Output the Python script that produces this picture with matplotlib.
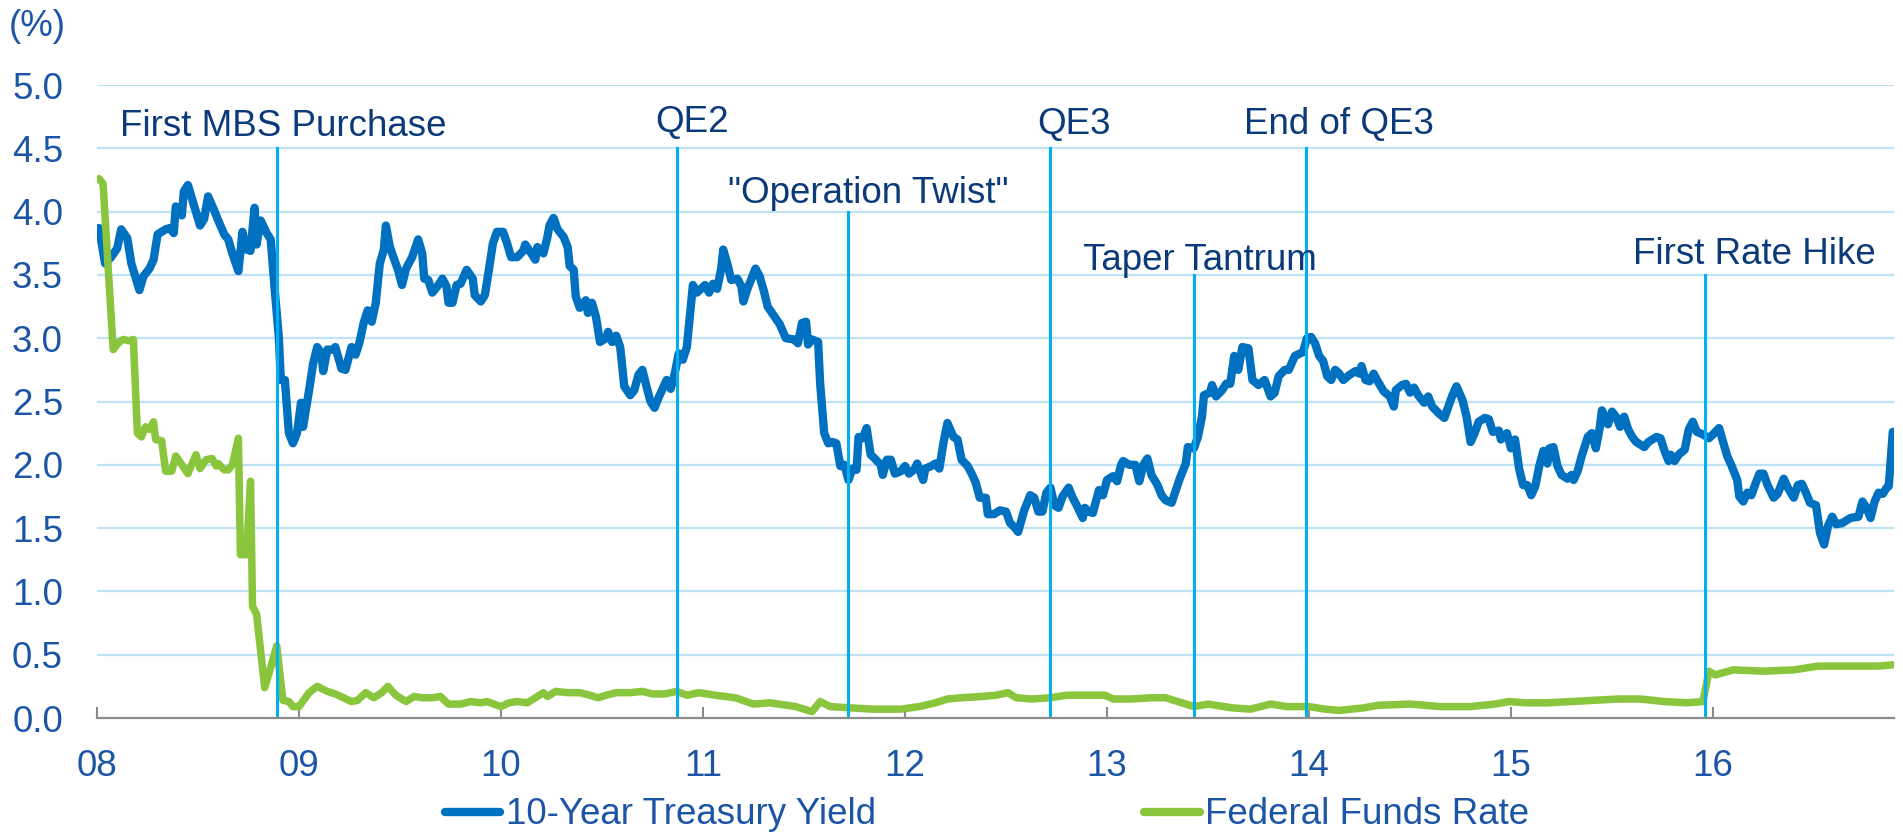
import matplotlib
matplotlib.use("Agg")
import matplotlib.pyplot as plt

plt.rcParams['font.family'] = ['Liberation Sans', 'DejaVu Sans']

# weekly-ish readings, decimal years
ust_dates = [
    2008.01, 2008.04, 2008.07, 2008.10, 2008.12, 2008.15, 2008.17, 2008.21, 2008.23, 2008.26,
    2008.28, 2008.30, 2008.34, 2008.36, 2008.38, 2008.39, 2008.42, 2008.43, 2008.45, 2008.48,
    2008.51, 2008.53, 2008.55, 2008.58, 2008.60, 2008.63, 2008.65, 2008.67, 2008.70, 2008.72,
    2008.74, 2008.76, 2008.78, 2008.79, 2008.81, 2008.84, 2008.86, 2008.88, 2008.90, 2008.91,
    2008.93, 2008.95, 2008.97, 2008.99, 2009.01, 2009.02, 2009.05, 2009.07, 2009.09, 2009.11,
    2009.12, 2009.14, 2009.17, 2009.18, 2009.21, 2009.23, 2009.26, 2009.28, 2009.30, 2009.32,
    2009.34, 2009.36, 2009.38, 2009.40, 2009.42, 2009.43, 2009.45, 2009.49, 2009.51, 2009.53,
    2009.56, 2009.59, 2009.61, 2009.62, 2009.64, 2009.66, 2009.69, 2009.71, 2009.73, 2009.74,
    2009.76, 2009.78, 2009.80, 2009.83, 2009.86, 2009.87, 2009.90, 2009.92, 2009.94, 2009.96,
    2009.98, 2010.01, 2010.03, 2010.05, 2010.08, 2010.11, 2010.12, 2010.15, 2010.17, 2010.18,
    2010.21, 2010.23, 2010.24, 2010.26, 2010.28, 2010.31, 2010.33, 2010.34, 2010.36, 2010.37,
    2010.39, 2010.42, 2010.43, 2010.45, 2010.47, 2010.49, 2010.52, 2010.53, 2010.55, 2010.57,
    2010.59, 2010.60, 2010.61, 2010.64, 2010.66, 2010.68, 2010.70, 2010.72, 2010.74, 2010.76,
    2010.78, 2010.82, 2010.84, 2010.86, 2010.88, 2010.90, 2010.92, 2010.95, 2010.97, 2010.99,
    2011.01, 2011.03, 2011.05, 2011.07, 2011.09, 2011.10, 2011.12, 2011.14, 2011.17, 2011.19,
    2011.20, 2011.22, 2011.26, 2011.28, 2011.30, 2011.32, 2011.35, 2011.38, 2011.41, 2011.45,
    2011.47, 2011.49, 2011.51, 2011.52, 2011.54, 2011.57, 2011.58, 2011.60, 2011.62, 2011.64,
    2011.66, 2011.68, 2011.70, 2011.72, 2011.74, 2011.76, 2011.77, 2011.79, 2011.81, 2011.83,
    2011.85, 2011.88, 2011.89, 2011.91, 2011.93, 2011.95, 2011.98, 2012.00, 2012.02, 2012.05,
    2012.06, 2012.09, 2012.10, 2012.13, 2012.15, 2012.17, 2012.19, 2012.21, 2012.24, 2012.26,
    2012.28, 2012.31, 2012.33, 2012.35, 2012.37, 2012.40, 2012.41, 2012.44, 2012.47, 2012.50,
    2012.52, 2012.54, 2012.56, 2012.59, 2012.62, 2012.64, 2012.66, 2012.68, 2012.70, 2012.72,
    2012.74, 2012.76, 2012.78, 2012.81, 2012.83, 2012.85, 2012.88, 2012.89, 2012.91, 2012.93,
    2012.96, 2012.98, 2013.00, 2013.03, 2013.05, 2013.07, 2013.08, 2013.11, 2013.14, 2013.16,
    2013.18, 2013.20, 2013.22, 2013.25, 2013.27, 2013.29, 2013.32, 2013.36, 2013.39, 2013.40,
    2013.43, 2013.45, 2013.47, 2013.48, 2013.51, 2013.52, 2013.54, 2013.57, 2013.59, 2013.61,
    2013.63, 2013.65, 2013.67, 2013.70, 2013.72, 2013.75, 2013.78, 2013.81, 2013.83, 2013.85,
    2013.88, 2013.90, 2013.93, 2013.97, 2013.99, 2014.01, 2014.03, 2014.05, 2014.07, 2014.09,
    2014.11, 2014.13, 2014.15, 2014.17, 2014.20, 2014.23, 2014.25, 2014.26, 2014.28, 2014.30,
    2014.32, 2014.34, 2014.37, 2014.40, 2014.42, 2014.43, 2014.46, 2014.48, 2014.50, 2014.52,
    2014.54, 2014.57, 2014.59, 2014.61, 2014.64, 2014.67, 2014.69, 2014.71, 2014.73, 2014.76,
    2014.78, 2014.80, 2014.82, 2014.84, 2014.87, 2014.89, 2014.91, 2014.94, 2014.95, 2014.98,
    2015.00, 2015.02, 2015.04, 2015.06, 2015.08, 2015.10, 2015.12, 2015.14, 2015.16, 2015.18,
    2015.19, 2015.21, 2015.23, 2015.25, 2015.28, 2015.30, 2015.31, 2015.33, 2015.35, 2015.38,
    2015.40, 2015.42, 2015.44, 2015.45, 2015.48, 2015.50, 2015.52, 2015.54, 2015.56, 2015.58,
    2015.60, 2015.62, 2015.66, 2015.68, 2015.70, 2015.72, 2015.74, 2015.76, 2015.78, 2015.79,
    2015.81, 2015.83, 2015.86, 2015.88, 2015.90, 2015.92, 2015.95, 2015.98, 2016.00, 2016.03,
    2016.05, 2016.07, 2016.09, 2016.12, 2016.13, 2016.15, 2016.17, 2016.19, 2016.21, 2016.23,
    2016.25, 2016.27, 2016.30, 2016.32, 2016.35, 2016.37, 2016.40, 2016.42, 2016.44, 2016.46,
    2016.48, 2016.51, 2016.53, 2016.55, 2016.57, 2016.59, 2016.61, 2016.64, 2016.68, 2016.72,
    2016.74, 2016.76, 2016.78, 2016.80, 2016.82, 2016.84, 2016.86, 2016.87, 2016.88, 2016.89,
]
ust_yield = [
    3.87, 3.59, 3.64, 3.71, 3.86, 3.79, 3.59, 3.38, 3.49, 3.55,
    3.62, 3.82, 3.86, 3.87, 3.83, 4.04, 3.97, 4.16, 4.21, 4.05,
    3.89, 3.94, 4.12, 4.01, 3.93, 3.82, 3.78, 3.67, 3.53, 3.84,
    3.70, 3.69, 4.03, 3.74, 3.93, 3.83, 3.78, 3.38, 3.01, 2.67,
    2.67, 2.25, 2.17, 2.25, 2.49, 2.30, 2.59, 2.80, 2.93, 2.88,
    2.74, 2.91, 2.91, 2.93, 2.76, 2.75, 2.93, 2.87, 2.97, 3.12,
    3.22, 3.13, 3.28, 3.59, 3.70, 3.89, 3.72, 3.54, 3.42, 3.55,
    3.64, 3.78, 3.67, 3.47, 3.46, 3.36, 3.42, 3.47, 3.41, 3.28,
    3.28, 3.42, 3.43, 3.54, 3.47, 3.34, 3.29, 3.34, 3.54, 3.75,
    3.84, 3.84, 3.75, 3.64, 3.64, 3.69, 3.74, 3.67, 3.62, 3.72,
    3.67, 3.80, 3.89, 3.95, 3.86, 3.80, 3.72, 3.57, 3.54, 3.33,
    3.24, 3.30, 3.20, 3.28, 3.17, 2.97, 3.00, 3.05, 2.97, 3.02,
    2.93, 2.78, 2.62, 2.55, 2.59, 2.71, 2.75, 2.62, 2.50, 2.45,
    2.53, 2.67, 2.60, 2.72, 2.88, 2.83, 2.93, 3.42, 3.36, 3.39,
    3.42, 3.36, 3.43, 3.39, 3.55, 3.70, 3.59, 3.46, 3.47, 3.41,
    3.29, 3.39, 3.55, 3.49, 3.38, 3.25, 3.18, 3.11, 3.00, 2.99,
    2.96, 3.12, 3.13, 2.95, 2.99, 2.97, 2.64, 2.25, 2.17, 2.18,
    2.17, 1.99, 2.00, 1.88, 1.97, 1.96, 2.22, 2.21, 2.29, 2.08,
    2.05, 2.00, 1.92, 2.04, 2.04, 1.93, 1.95, 1.99, 1.93, 1.97,
    2.01, 1.88, 1.97, 1.99, 2.01, 1.97, 2.17, 2.33, 2.22, 2.20,
    2.04, 1.99, 1.93, 1.86, 1.74, 1.74, 1.61, 1.61, 1.64, 1.63,
    1.54, 1.51, 1.47, 1.64, 1.76, 1.74, 1.63, 1.63, 1.78, 1.82,
    1.68, 1.66, 1.75, 1.82, 1.74, 1.68, 1.58, 1.66, 1.63, 1.62,
    1.80, 1.76, 1.88, 1.91, 1.87, 2.00, 2.03, 2.00, 2.00, 1.87,
    2.00, 2.05, 1.92, 1.84, 1.76, 1.72, 1.70, 1.89, 2.01, 2.14,
    2.13, 2.22, 2.38, 2.55, 2.57, 2.63, 2.54, 2.59, 2.64, 2.64,
    2.86, 2.75, 2.93, 2.92, 2.67, 2.63, 2.67, 2.54, 2.57, 2.70,
    2.75, 2.75, 2.86, 2.89, 3.00, 3.01, 2.96, 2.86, 2.82, 2.70,
    2.67, 2.75, 2.72, 2.67, 2.71, 2.74, 2.72, 2.78, 2.67, 2.66,
    2.72, 2.66, 2.58, 2.54, 2.46, 2.59, 2.63, 2.64, 2.57, 2.61,
    2.55, 2.49, 2.54, 2.46, 2.41, 2.37, 2.46, 2.55, 2.62, 2.51,
    2.38, 2.18, 2.25, 2.34, 2.37, 2.36, 2.26, 2.27, 2.20, 2.25,
    2.13, 2.20, 1.97, 1.84, 1.84, 1.76, 1.83, 1.99, 2.11, 2.01,
    2.13, 2.14, 1.99, 1.92, 1.89, 1.92, 1.88, 1.95, 2.07, 2.22,
    2.25, 2.13, 2.30, 2.43, 2.32, 2.42, 2.38, 2.30, 2.38, 2.28,
    2.22, 2.18, 2.14, 2.18, 2.20, 2.22, 2.21, 2.11, 2.03, 2.08,
    2.03, 2.08, 2.12, 2.28, 2.34, 2.26, 2.24, 2.21, 2.24, 2.29,
    2.18, 2.07, 2.00, 1.88, 1.75, 1.71, 1.78, 1.76, 1.85, 1.93,
    1.93, 1.84, 1.74, 1.77, 1.89, 1.82, 1.74, 1.84, 1.85, 1.78,
    1.70, 1.68, 1.46, 1.37, 1.52, 1.59, 1.53, 1.54, 1.58, 1.59,
    1.71, 1.66, 1.58, 1.71, 1.78, 1.77, 1.82, 1.83, 2.04, 2.26,
]

ffr_dates = [
    2008.01, 2008.03, 2008.06, 2008.08, 2008.11, 2008.13, 2008.16, 2008.18, 2008.20, 2008.22,
    2008.24, 2008.26, 2008.28, 2008.29, 2008.32, 2008.34, 2008.37, 2008.39, 2008.42, 2008.45,
    2008.49, 2008.51, 2008.54, 2008.57, 2008.59, 2008.60, 2008.63, 2008.65, 2008.67, 2008.70,
    2008.71, 2008.74, 2008.76, 2008.77, 2008.79, 2008.83, 2008.86, 2008.89, 2008.92, 2008.95,
    2008.97, 2009.00, 2009.05, 2009.09, 2009.14, 2009.18, 2009.22, 2009.26, 2009.29, 2009.33,
    2009.37, 2009.41, 2009.44, 2009.48, 2009.53, 2009.57, 2009.61, 2009.66, 2009.70, 2009.74,
    2009.80, 2009.85, 2009.90, 2009.93, 2010.00, 2010.04, 2010.08, 2010.13, 2010.17, 2010.21,
    2010.23, 2010.27, 2010.33, 2010.39, 2010.44, 2010.48, 2010.52, 2010.57, 2010.64, 2010.70,
    2010.75, 2010.81, 2010.87, 2010.92, 2010.98, 2011.06, 2011.16, 2011.25, 2011.33, 2011.46,
    2011.54, 2011.58, 2011.63, 2011.73, 2011.84, 2011.98, 2012.07, 2012.15, 2012.21, 2012.28,
    2012.38, 2012.45, 2012.51, 2012.55, 2012.63, 2012.72, 2012.80, 2012.89, 2012.99, 2013.03,
    2013.12, 2013.22, 2013.29, 2013.35, 2013.43, 2013.50, 2013.62, 2013.71, 2013.81, 2013.89,
    2014.00, 2014.08, 2014.15, 2014.27, 2014.34, 2014.50, 2014.65, 2014.80, 2014.92, 2014.99,
    2015.07, 2015.18, 2015.30, 2015.41, 2015.53, 2015.64, 2015.76, 2015.87, 2015.95, 2015.98,
    2016.01, 2016.10, 2016.25, 2016.40, 2016.52, 2016.71, 2016.82, 2016.89,
]
ffr_rate = [
    4.26, 4.22, 3.43, 2.91, 2.97, 2.99, 2.98, 2.99, 2.25, 2.22,
    2.30, 2.28, 2.34, 2.20, 2.19, 1.95, 1.95, 2.07, 2.00, 1.93,
    2.08, 1.97, 2.04, 2.05, 1.99, 2.01, 1.96, 1.96, 2.00, 2.21,
    1.29, 1.29, 1.87, 0.88, 0.82, 0.24, 0.40, 0.57, 0.14, 0.13,
    0.09, 0.09, 0.20, 0.25, 0.21, 0.19, 0.16, 0.13, 0.14, 0.20,
    0.16, 0.20, 0.25, 0.18, 0.13, 0.17, 0.16, 0.16, 0.17, 0.11,
    0.11, 0.13, 0.12, 0.13, 0.09, 0.12, 0.13, 0.12, 0.16, 0.20,
    0.17, 0.21, 0.20, 0.20, 0.18, 0.16, 0.18, 0.20, 0.20, 0.21,
    0.19, 0.19, 0.21, 0.18, 0.20, 0.18, 0.16, 0.11, 0.12, 0.09,
    0.05, 0.13, 0.09, 0.08, 0.07, 0.07, 0.09, 0.12, 0.15, 0.16,
    0.17, 0.18, 0.20, 0.16, 0.15, 0.16, 0.18, 0.18, 0.18, 0.15,
    0.15, 0.16, 0.16, 0.13, 0.09, 0.11, 0.08, 0.07, 0.11, 0.09,
    0.09, 0.07, 0.06, 0.08, 0.10, 0.11, 0.09, 0.09, 0.11, 0.13,
    0.12, 0.12, 0.13, 0.14, 0.15, 0.15, 0.13, 0.12, 0.13, 0.37,
    0.34, 0.38, 0.37, 0.38, 0.41, 0.41, 0.41, 0.42,
]

event_labels = ['First MBS Purchase', 'QE2', '"Operation Twist"', 'QE3',
                'End of QE3', 'Taper Tantrum', 'First Rate Hike']
event_dates = [2008.89, 2010.87, 2011.72, 2012.72, 2013.985, 2013.43, 2015.96]

# layout of the event markers: top of line, label left x, label baseline y
event_tops = [4.5, 4.5, 4.0, 4.5, 4.5, 3.5, 3.5]
label_xy = [(2008.114, 4.60), (2010.762, 4.63), (2011.124, 4.07), (2012.653, 4.61),
            (2013.678, 4.61), (2012.881, 3.54), (2015.604, 3.59)]

year_ticks = [2008, 2009, 2010, 2011, 2012, 2013, 2014, 2015, 2016]
year_labels = ['08', '09', '10', '11', '12', '13', '14', '15', '16']

blue = '#0070C0'
green = '#8AC53E'
cyan = '#00B0F0'
grid_col = '#BFE3F6'
label_col = '#1C55A6'
note_col = '#0B3A7A'
fs = 26.5

fig = plt.figure(figsize=(19.03, 8.33), dpi=100)
ax = fig.add_axes([97 / 1903, 115 / 833, 1797 / 1903, 633 / 833])

for v in [0.5, 1.0, 1.5, 2.0, 2.5, 3.0, 3.5, 4.0, 4.5, 5.0]:
    ax.axhline(v, color=grid_col, lw=1.6, zorder=1)

ax.plot(ust_dates, ust_yield, color=blue, lw=6.0, solid_joinstyle='round',
        solid_capstyle='round', zorder=3, label='10-Year Treasury Yield')
ax.plot(ffr_dates, ffr_rate, color=green, lw=5.4, solid_joinstyle='round',
        solid_capstyle='round', zorder=3, label='Federal Funds Rate')

for d, top in zip(event_dates, event_tops):
    ax.plot([d, d], [0, top], color=cyan, lw=2.2, zorder=4)
for lab, (tx, ty) in zip(event_labels, label_xy):
    ax.text(tx, ty, lab, color=note_col, fontsize=fs, ha='left', va='baseline', zorder=5)

ax.set_xlim(2008.0, 2016.896)
ax.set_ylim(0, 5.0)
ax.set_xticks(year_ticks)
ax.set_xticklabels(year_labels)
ax.set_yticks([0.0, 0.5, 1.0, 1.5, 2.0, 2.5, 3.0, 3.5, 4.0, 4.5, 5.0])
ax.set_yticklabels(['%.1f' % v for v in ax.get_yticks()])
ax.tick_params(axis='x', direction='in', length=8, width=1.5, color='#8C8C8C',
               labelsize=fs, labelcolor=label_col, pad=22)
ax.tick_params(axis='y', length=0, labelsize=fs, labelcolor=label_col, pad=24.5)
for s in ['top', 'right', 'left']:
    ax.spines[s].set_visible(False)
ax.spines['bottom'].set_color('#8C8C8C')
ax.spines['bottom'].set_linewidth(1.6)
ax.spines['bottom'].set_zorder(6)

fig.text(37 / 1903, 1 - 27 / 833, '(%)', color=label_col, fontsize=fs,
         ha='center', va='center')

leg = fig.legend(loc='center', bbox_to_anchor=(987 / 1903, 1 - 815 / 833), ncol=2,
                 frameon=False, fontsize=fs, handlelength=1.5, handletextpad=0.15,
                 columnspacing=7.3, borderpad=0, borderaxespad=0)
for t in leg.get_texts():
    t.set_color(label_col)
for h in leg.get_lines():
    h.set_linewidth(6.0)

fig.savefig('out.png', dpi=100)
